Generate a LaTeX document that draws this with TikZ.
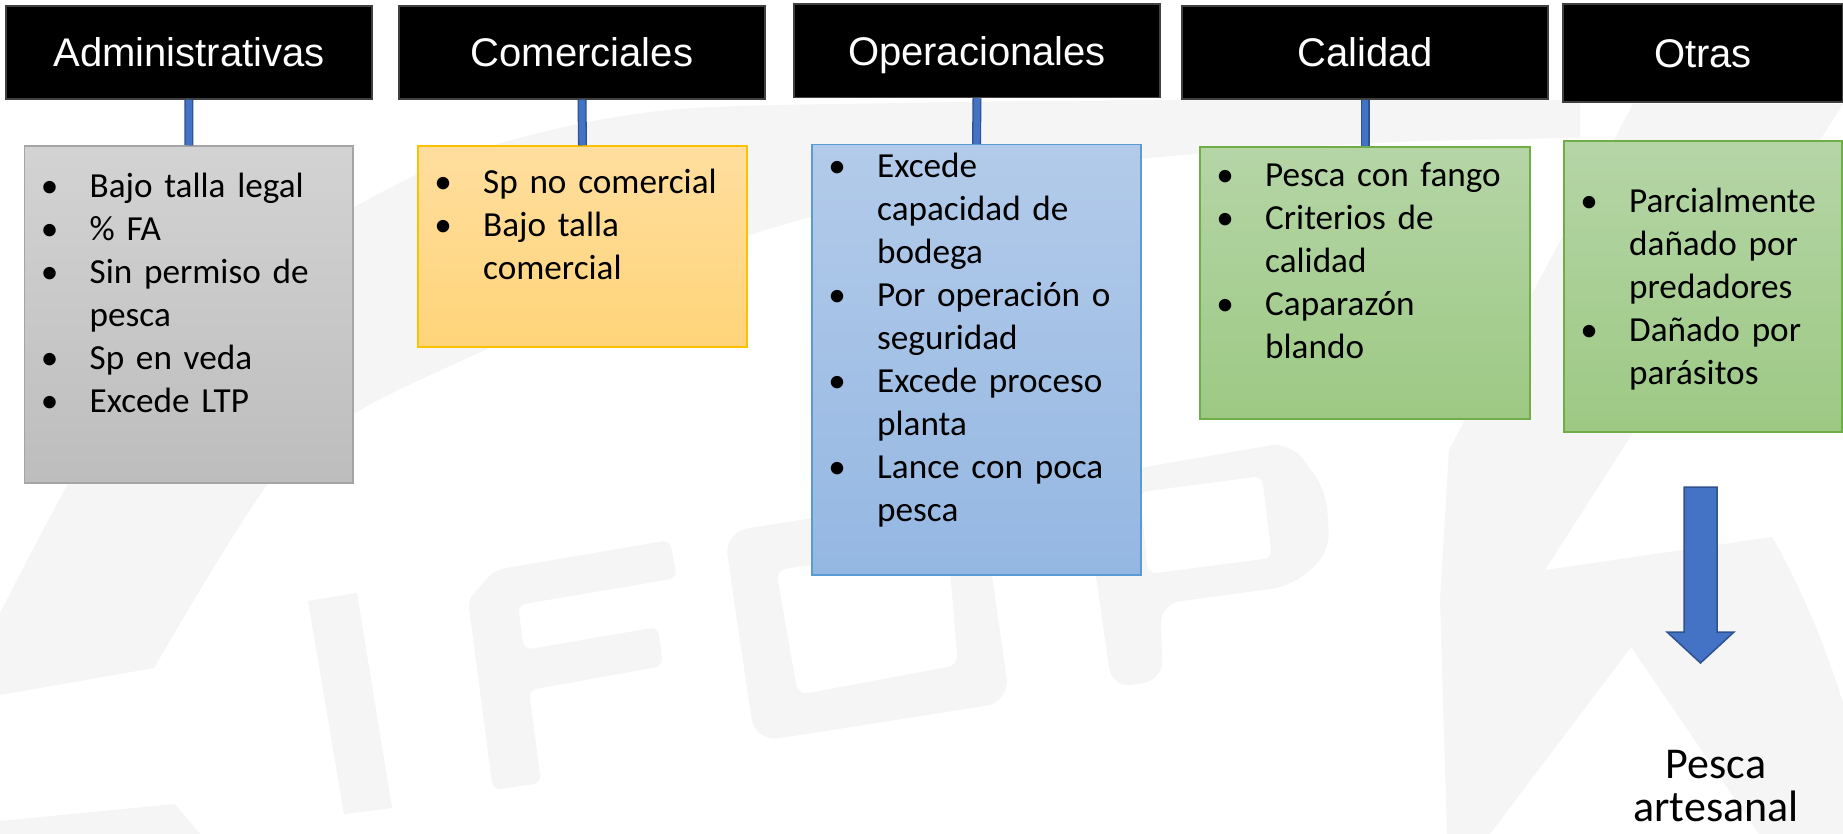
\documentclass[tikz,border=0pt]{standalone}
\usepackage{fontspec}
\setmainfont{Carlito}
\newfontfamily\headfont{Liberation Sans}
\usetikzlibrary{positioning,calc}
\definecolor{wmark}{HTML}{F5F5F5}
\definecolor{hdline}{HTML}{404040}
\definecolor{admtop}{HTML}{D3D3D3}
\definecolor{admbot}{HTML}{BDBDBD}
\definecolor{admline}{HTML}{A5A5A5}
\definecolor{comtop}{HTML}{FFDE9E}
\definecolor{combot}{HTML}{FFD479}
\definecolor{comline}{HTML}{FFC000}
\definecolor{optop}{HTML}{B3CBEA}
\definecolor{opbot}{HTML}{94B7E2}
\definecolor{opline}{HTML}{5B9BD5}
\definecolor{caltop}{HTML}{B5D5A6}
\definecolor{calbot}{HTML}{9DC984}
\definecolor{calline}{HTML}{70AD47}
\definecolor{barfill}{HTML}{4472C4}
\definecolor{barline}{HTML}{2F528F}
% one bullet line, later lines hang under the text
\newcommand{\bul}[1]{\noindent\hangindent=32.75pt\hangafter=1%
  \hbox to 32.75pt{\hskip12.75pt\hbox to 0pt{\hss\textbullet\hss}\hss}#1\par}

\begin{document}
\begin{tikzpicture}[x=0.5pt, y=-0.5pt,
    hdr/.style={fill=black, draw=hdline, line width=0.75pt, text=white,
      font=\headfont\fontsize{20pt}{24pt}\selectfont, inner sep=0pt,
      minimum width=183pt, minimum height=46.5pt, text height=14.3pt, text depth=0pt},
    box/.style={draw=#1line, top color=#1top, bottom color=#1bot, line width=0.75pt,
      inner sep=0pt},
    link/.style={draw=barline, double=barfill, double distance=3.2pt, line width=0.65pt},
    listtxt/.style={anchor=base west, text width=200pt, inner sep=0pt,
      font=\fontsize{17.6pt}{21.5pt}\selectfont}]
  \useasboundingbox (0,0) rectangle (1843,834);
  \fill[white] (0,0) rectangle (1843,834);
  % watermark
  \fill[wmark] plot[smooth] coordinates {(154,668) (268,484) (357,412) (489,348) (700,252)
      (900,195) (1150,158) (1400,142) (1580,138)}
    -- plot[smooth] coordinates {(1580,100) (1200,100) (900,103) (650,112) (450,160)
      (260,265) (130,385) (68,484) (0,613)} -- (0,695) -- cycle;
  \fill[wmark] (0,821) -- (175,804) -- (200,834) -- (0,834) -- cycle;
  \fill[wmark] (308,601) -- (357,593) -- (392,808) -- (344,814) -- cycle;
  \fill[wmark, rounded corners=4pt] (468,600) -- (493,790) -- (541,783) -- (529,690)
    -- (663,666) -- (658,627) -- (524,650) -- (518,605) -- (677,578) -- (670,540)
    -- (495,570) -- cycle;
  \fill[wmark, even odd rule] [rounded corners=12pt] (724,532) -- (980,492) -- (1010,702)
    -- (755,742) -- cycle [rounded corners=5pt] (776,570) -- (948,546) -- (958,665)
    -- (798,695) -- cycle;
  \fill[wmark, even odd rule] [rounded corners=10pt] (1082,478) -- (1290,442) -- (1326,490)
    -- (1330,552) -- (1292,586) -- (1160,604) -- (1163,680) -- (1112,688) -- cycle
    [rounded corners=4pt] (1140,492) -- (1262,476) -- (1272,558) -- (1148,574) -- cycle;
  \fill[wmark] (1633,104) -- (1843,104) -- (1545,570) -- (1772,537)
    .. controls (1800,585) and (1825,645) .. (1843,703) -- (1843,834) -- (1759,834)
    -- (1631,647) -- (1490,834) -- (1447,834) -- (1440,600) -- (1449,450) -- cycle;

  % headers
  \node[hdr] (admh) at (189,52.5) {Administrativas};
  \node[hdr] (comh) at (582,52.5) {Comerciales};
  \node[hdr, minimum height=46.75pt] (oph) at (977,50.75) {Operacionales};
  \node[hdr] (calh) at (1365,52.5) {Calidad};
  \node[hdr, minimum width=140pt, minimum height=49pt] (otrh) at (1703,53) {Otras};

  % boxes
  \node[box=adm, minimum width=164.25pt, minimum height=168.5pt] (adm) at (188.75,314.5) {};
  \node[box=com, minimum width=164.5pt, minimum height=100.5pt] (com) at (582.5,246.5) {};
  \node[box=op, minimum width=164.5pt, minimum height=215.2pt] (op) at (976.5,359.8) {};
  \node[box=cal, minimum width=165pt, minimum height=136pt] (cal) at (1365,283) {};
  \node[box=cal, minimum width=139pt, minimum height=145.5pt] (otr) at (1703,286.5) {};

  \draw[link] (admh.south) -- (adm.north);
  \draw[link] (comh.south) -- (com.north);
  \draw[link] (oph.south) -- (op.north);
  \draw[link] (calh.south) -- (cal.north);

  % lists
  \node[listtxt] (admt) at ($(adm.north west)+(0,52)$) {\bul{Bajo talla legal}\bul{\% FA}%
    \bul{Sin permiso de\newline pesca}\bul{Sp en veda}\bul{Excede LTP}};
  \node[listtxt] (comt) at ($(com.north west)+(0,48)$) {\bul{Sp no comercial}%
    \bul{Bajo talla\newline comercial}};
  \node[listtxt] (opt) at ($(op.north west)+(0,34)$) {\bul{Excede\newline capacidad de\newline bodega}%
    \bul{Por operación o\newline seguridad}\bul{Excede proceso\newline planta}%
    \bul{Lance con poca\newline pesca}};
  \node[listtxt] (calt) at ($(cal.north west)+(0,40)$) {\bul{Pesca con fango}%
    \bul{Criterios de\newline calidad}\bul{Caparazón\newline blando}};
  \node[listtxt] (otrt) at ($(otr.north west)+(0,72)$) {\bul{Parcialmente\newline dañado por\newline predadores}%
    \bul{Dañado por\newline parásitos}};

  % block arrow and result
  \filldraw[fill=barfill, draw=barline, line width=0.75pt] (1684,487) -- (1717,487)
    -- (1717,632) -- (1734,632) -- (1700.5,663) -- (1667,632) -- (1684,632) -- cycle;
  \node[anchor=base, text width=130pt, align=center, inner sep=0pt,
    font=\fontsize{22pt}{21.5pt}\selectfont] (pesca) at (1716,778) {Pesca\\artesanal};
\end{tikzpicture}
\end{document}
